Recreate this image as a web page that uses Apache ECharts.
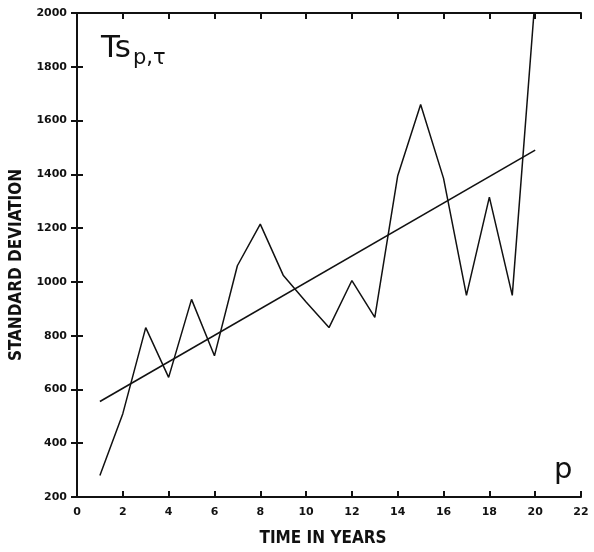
<!DOCTYPE html>
<html>
<head>
<meta charset="utf-8">
<script src="https://cdn.jsdelivr.net/npm/echarts@6/dist/echarts.min.js"></script>
<style>html,body{margin:0;padding:0;background:#fff}#c{width:594px;height:552px}</style>
</head>
<body>
<div id="c"></div>
<script>
var years = [1,2,3,4,5,6,7,8,9,10,11,12,13,14,15,16,17,18,19,20];
var stdDev = [280,510,830,645,935,725,1060,1215,1025,925,830,1005,868,1395,1660,1385,950,1315,950,2060];
var trendX = [1,20];
var trendY = [555,1490];
var xTicks = [0,2,4,6,8,10,12,14,16,18,20,22];
var yTicks = [200,400,600,800,1000,1200,1400,1600,1800,2000];

var mainData = years.map(function(t,i){return [t, stdDev[i]];});
var trendData = trendX.map(function(t,i){return [t, trendY[i]];});
var font = 'DejaVu Sans Condensed';
var ink = '#111';

var chart = echarts.init(document.getElementById('c'));
chart.setOption({
  animation:false,
  backgroundColor:'#fff',
  grid:{left:77,right:13,top:13,bottom:54},
  xAxis:[{
    type:'value',min:xTicks[0],max:xTicks[xTicks.length-1],interval:2,
    name:'TIME IN YEARS',nameLocation:'middle',nameGap:33,
    nameTextStyle:{fontFamily:font,fontSize:17,color:ink,fontWeight:'bold',padding:[0,12,0,0]},
    axisLine:{show:true,lineStyle:{color:ink,width:2}},
    axisTick:{show:true,inside:true,length:6,lineStyle:{color:ink,width:2}},
    axisLabel:{fontFamily:'DejaVu Sans',fontSize:11,fontWeight:'bold',color:ink,margin:10,
      formatter:function(v){return String(v);}},
    splitLine:{show:false}
  },{
    type:'value',position:'top',min:xTicks[0],max:xTicks[xTicks.length-1],interval:2,
    axisLine:{show:true,lineStyle:{color:ink,width:2}},
    axisTick:{show:true,inside:true,length:6,lineStyle:{color:ink,width:2}},
    axisLabel:{show:false},splitLine:{show:false}
  }],
  yAxis:[{
    type:'value',min:yTicks[0],max:yTicks[yTicks.length-1],interval:200,
    name:'STANDARD DEVIATION',nameLocation:'middle',nameGap:49,nameRotate:90,
    nameTextStyle:{fontFamily:font,fontSize:17,color:ink,fontWeight:'bold',padding:[0,20,0,0]},
    axisLine:{show:true,lineStyle:{color:ink,width:2}},
    axisTick:{show:true,inside:true,length:6,lineStyle:{color:ink,width:2}},
    axisLabel:{fontFamily:'DejaVu Sans',fontSize:11,fontWeight:'bold',color:ink,margin:10,
      formatter:function(v){return String(v);}},
    splitLine:{show:false}
  },{
    type:'value',position:'right',min:yTicks[0],max:yTicks[yTicks.length-1],interval:200,
    axisLine:{show:true,lineStyle:{color:ink,width:2}},
    axisTick:{show:true,inside:true,length:6,lineStyle:{color:ink,width:2}},
    axisLabel:{show:false},splitLine:{show:false}
  }],
  series:[{
    type:'line',data:mainData,showSymbol:false,clip:true,
    lineStyle:{color:ink,width:1.5},z:3
  },{
    type:'line',data:trendData,showSymbol:false,clip:true,
    lineStyle:{color:ink,width:1.6},z:3
  }],
  graphic:[{
    type:'text',left:101,top:33,
    style:{text:'Ts',fontFamily:'DejaVu Sans',fontSize:31,fill:ink}
  },{
    type:'text',left:133,top:48,
    style:{text:'p,τ',fontFamily:'DejaVu Sans',fontSize:21,fill:ink}
  },{
    type:'text',left:554,top:456,
    style:{text:'p',fontFamily:'DejaVu Sans',fontSize:29,fill:ink}
  }]
});
</script>
</body>
</html>
